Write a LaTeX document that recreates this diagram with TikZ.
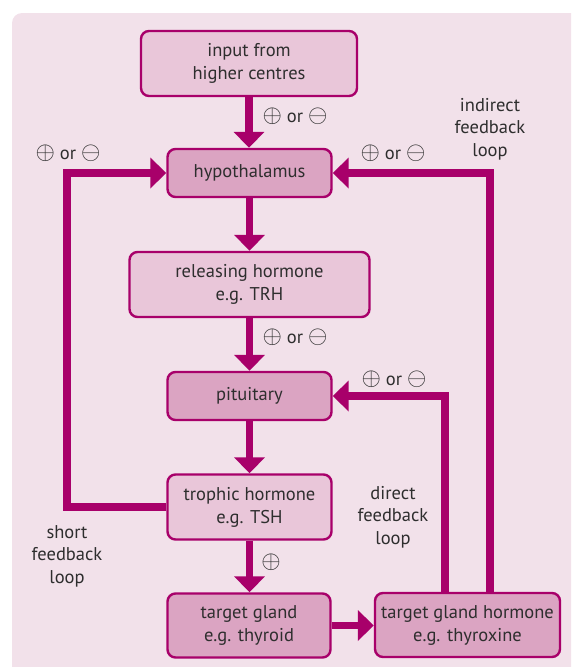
\documentclass[tikz,border=0pt]{standalone}
\usepackage{fontspec}
\setmainfont{PT Sans}
\usetikzlibrary{arrows.meta}
\definecolor{bgpink}{HTML}{F2E1EA}
\definecolor{lightbox}{HTML}{E9C6D9}
\definecolor{darkbox}{HTML}{DBA4C2}
\definecolor{mag}{HTML}{A8006A}
\definecolor{txt}{HTML}{2E2E2E}
\newcommand{\pls}{{\fontsize{23}{23}\selectfont$\oplus$}}
\newcommand{\mns}{{\fontsize{23}{23}\selectfont$\ominus$}}
\begin{document}
\begin{tikzpicture}[x=1pt,y=-1pt,
  box/.style={draw=mag, line width=2.4pt, rounded corners=8pt, align=center,
    text=txt, inner sep=0pt, font=\fontsize{18.5}{23}\selectfont},
  lbox/.style={box, fill=lightbox},
  dbox/.style={box, fill=darkbox},
  arr/.style={draw=mag, line width=7.5pt, -{Triangle[width=30pt,length=16pt]}},
  lbl/.style={text=txt, align=center, inner sep=0pt, font=\fontsize{18.5}{22.5}\selectfont}]
\useasboundingbox (0,0) rectangle (571,667);
\clip (0,0) rectangle (571,667);
\fill[bgpink, rounded corners=10pt] (12,13) rectangle (600,700);

\node[lbox, minimum width=216pt, minimum height=65pt] (input) at (249,63.5) {input from\\higher centres};
\node[dbox, minimum width=164pt, minimum height=48pt] (hypo) at (249.5,173) {hypothalamus};
\node[lbox, minimum width=240pt, minimum height=65pt] (rel) at (249.5,284.5) {releasing hormone\\e.g. TRH};
\node[dbox, minimum width=164pt, minimum height=48pt] (pit) at (249.5,396) {pituitary};
\node[lbox, minimum width=164pt, minimum height=65pt] (troph) at (249.5,507) {trophic hormone\\e.g. TSH};
\node[dbox, minimum width=163pt, minimum height=64pt] (tg) at (249,625.5) {target gland\\e.g. thyroid};
\node[dbox, minimum width=185pt, minimum height=64pt] (tgh) at (467.5,625) {target gland hormone\\e.g. thyroxine};

\coordinate (slx) at (67,0);
\coordinate (dlx) at (445,0);
\coordinate (ilx) at (490,0);

\draw[arr] (input.south) -- (input.south |- hypo.north);
\draw[arr] (hypo.south) -- (hypo.south |- rel.north);
\draw[arr] (rel.south) -- (rel.south |- pit.north);
\draw[arr] (pit.south) -- (pit.south |- troph.north);
\draw[arr] (troph.south) -- (troph.south |- tg.north);
\draw[arr] (tg.east) -- (tg.east -| tgh.west);
\draw[arr] (troph.west) -- (troph.west -| slx) |- (hypo.west);
\draw[arr] (tgh.north -| dlx) |- (pit.east);
\draw[arr] (tgh.north -| ilx) |- (hypo.east);

\node[lbl] (l1) at (295,116) {\pls{} or \mns};
\node[lbl] (l2) at (68,153) {\pls{} or \mns};
\node[lbl] (l3) at (393,153) {\pls{} or \mns};
\node[lbl] (l4) at (295,337) {\pls{} or \mns};
\node[lbl] (l5) at (394,379) {\pls{} or \mns};
\node[lbl] (l6) at (271,562) {\pls};
\node[lbl] (ind) at (490,129) {indirect\\feedback\\loop};
\node[lbl] (dir) at (393,517) {direct\\feedback\\loop};
\node[lbl] (sho) at (67,556) {short\\feedback\\loop};
\end{tikzpicture}
\end{document}
